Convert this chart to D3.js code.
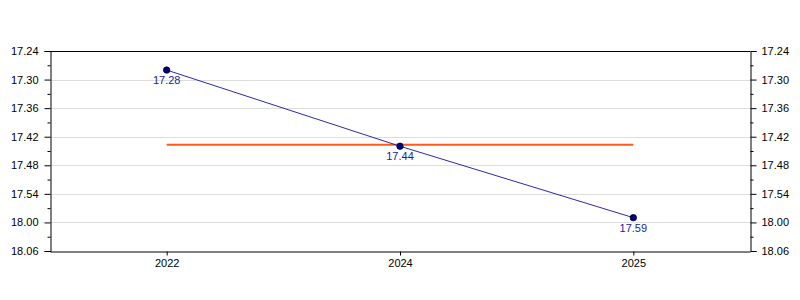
<!DOCTYPE html>
<html>
<head>
<meta charset="utf-8">
<script src="https://cdn.jsdelivr.net/npm/d3@7"></script>
<style>
body { margin: 0; background: #fff; }
svg text { font-family: "Liberation Sans", Arial, sans-serif; font-size: 11px; }
.grid line { stroke: #dddddd; }
</style>
</head>
<body>
<script>
const WIDTH = 800
const HEIGHT = 300
const MARGIN = {top: 51, right: 50, bottom: 49, left: 50}

// times written as minutes.seconds
var years = ["2022", "2024", "2025"]
var times = ["17.28", "17.44", "17.59"]
var yTicks = ["17.24", "17.30", "17.36", "17.42", "17.48", "17.54", "18.00", "18.06"]

var toSec = function(s){
    var p = s.split(".")
    return +p[0] * 60 + +p[1]
}
var toLabel = function(sec){
    var m = Math.floor(sec / 60), s = Math.round(sec - m * 60)
    return m + "." + (s < 10 ? "0" + s : s)
}

var createChart = function(){
    var svg = d3.select("body").append("svg")
        .attr("width", WIDTH)
        .attr("height", HEIGHT)

    var w = WIDTH - MARGIN.left - MARGIN.right
    var h = HEIGHT - MARGIN.top - MARGIN.bottom
    var g = svg.append("g").attr("transform", "translate(" + MARGIN.left + "," + MARGIN.top + ")")

    var majors = yTicks.map(toSec)
    var minors = []
    for (var i = 0; i < majors.length - 1; i++) minors.push((majors[i] + majors[i + 1]) / 2)

    var x = d3.scalePoint().domain(years).range([0, w]).padding(0.5)
    var y = d3.scaleLinear().domain([majors[0], majors[majors.length - 1]]).range([0, h])

    // grid
    g.append("g").classed("grid", true)
        .selectAll("line").data(majors.slice(1, -1)).enter().append("line")
        .attr("x1", 0).attr("x2", w)
        .attr("y1", d => Math.round(y(d)) + 0.5).attr("y2", d => Math.round(y(d)) + 0.5)

    // axes
    var left = g.append("g").attr("transform", "translate(0.5,0)")
        .call(d3.axisLeft(y).tickValues(majors).tickFormat(toLabel).tickSize(6).tickPadding(6))
    left.append("g").call(d3.axisLeft(y).tickValues(minors).tickFormat("").tickSize(3))
        .select(".domain").remove()

    var right = g.append("g").attr("transform", "translate(" + (w + 0.5) + ",0)")
        .call(d3.axisRight(y).tickValues(majors).tickFormat(toLabel).tickSize(6).tickPadding(5))
    right.append("g").call(d3.axisRight(y).tickValues(minors).tickFormat("").tickSize(3))
        .select(".domain").remove()

    g.append("g").attr("transform", "translate(0," + (h + 0.5) + ")")
        .call(d3.axisBottom(x).tickSize(4).tickPadding(4).tickSizeOuter(0))

    g.append("line").attr("x1", 0).attr("x2", w).attr("y1", 0.5).attr("y2", 0.5).attr("stroke", "#000")

    g.selectAll(".domain").attr("stroke", "#000")
    g.selectAll(".tick text").attr("fill", "#000").style("font-size", "11px")

    var secs = times.map(toSec)
    var avg = d3.mean(secs)

    // average line
    g.append("line")
        .attr("x1", x(years[0])).attr("x2", x(years[years.length - 1]))
        .attr("y1", y(avg)).attr("y2", y(avg))
        .attr("stroke", "#ff5a1a").attr("stroke-width", 2)

    var line = d3.line().x((d, i) => x(years[i])).y(d => y(d))
    g.append("path").datum(secs)
        .attr("d", line)
        .attr("fill", "none")
        .attr("stroke", "#2a2aa8")
        .attr("stroke-width", 1)

    g.selectAll("circle.pt").data(secs).enter().append("circle")
        .attr("cx", (d, i) => x(years[i])).attr("cy", d => y(d))
        .attr("r", 3.2)
        .attr("fill", "#000080").attr("stroke", "#000022").attr("stroke-width", 0.8)

    g.selectAll("text.lbl").data(times).enter().append("text")
        .attr("x", (d, i) => x(years[i])).attr("y", (d, i) => y(secs[i]) + 14)
        .attr("text-anchor", "middle")
        .attr("fill", "#1a1aa0")
        .text(d => d)
}

createChart()
</script>
</body>
</html>
